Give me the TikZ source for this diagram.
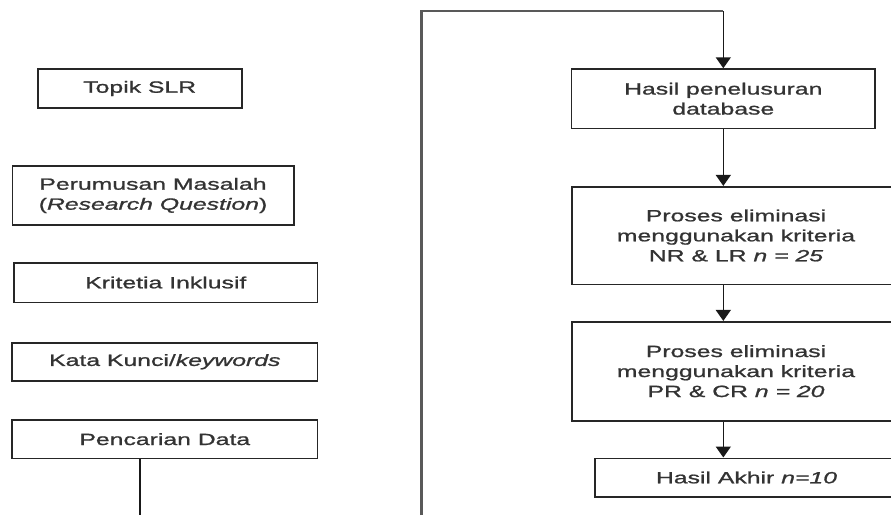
\documentclass[tikz,border=0pt]{standalone}
\usepackage{fontspec}
\setmainfont[FakeStretch=1.52,FakeBold=1.1]{Liberation Sans}
\usetikzlibrary{arrows.meta}
\begin{document}
\begin{tikzpicture}[x=1pt,y=-1pt,
  box/.style={draw=black!85, line width=1.6pt, inner sep=0pt, align=center,
    text=black!80, font=\fontsize{16.3}{20}\selectfont},
  conn/.style={draw=black!90, line width=1.6pt},
  arr/.style={conn, -{Triangle[width=15pt,length=11pt]}},
  loopline/.style={draw=black!65, line width=2.6pt}]
\useasboundingbox (0,0) rectangle (891,515);
\clip (0,0) rectangle (891,515);
% left column
\node[box, minimum width=204pt, minimum height=39pt] (topik) at (139.7,88.5) {Topik SLR};
\node[box, minimum width=281.4pt, minimum height=59pt] (rumus) at (153,195.5) {Perumusan Masalah\\(\textit{Research Question})};
\node[box, minimum width=303.7pt, minimum height=39.6pt] (krit) at (165.8,282.5) {Kritetia Inklusif};
\node[box, minimum width=305.7pt, minimum height=38pt] (kata) at (164.8,361.7) {Kata Kunci/\textit{keywords}};
\node[box, minimum width=305.7pt, minimum height=38.3pt] (cari) at (164.8,439.2) {Pencarian Data};
\coordinate (pend) at (140,515);
\draw[conn] (pend |- cari.south) -- (pend);
% right column
\node[box, minimum width=303.3pt, minimum height=59.3pt] (hasil) at (723.3,98.7) {Hasil penelusuran\\database};
\node[box, minimum width=328.6pt, minimum height=97.6pt] (p1) at (736,235.5) {Proses eliminasi\\menggunakan kriteria\\NR \& LR \textit{n = 25}};
\node[box, minimum width=328.6pt, minimum height=99pt] (p2) at (736,371.2) {Proses eliminasi\\menggunakan kriteria\\PR \& CR \textit{n = 20}};
\node[box, minimum width=303pt, minimum height=38.4pt] (akhir) at (746.5,477.5) {Hasil Akhir \textit{n=10}};
% loop connector
\coordinate (lb) at (421.5,515);
\coordinate (lt) at (421.5,11);
\coordinate (lc) at (hasil.north |- lt);
\draw[loopline] (lb) -- (lt) -- (lc);
\draw[arr] (lc) -- (hasil.north);
\draw[arr] (hasil.south) -- (hasil.south |- p1.north);
\draw[arr] (hasil.south |- p1.south) -- (hasil.south |- p2.north);
\draw[arr] (hasil.south |- p2.south) -- (hasil.south |- akhir.north);
\end{tikzpicture}
\end{document}
